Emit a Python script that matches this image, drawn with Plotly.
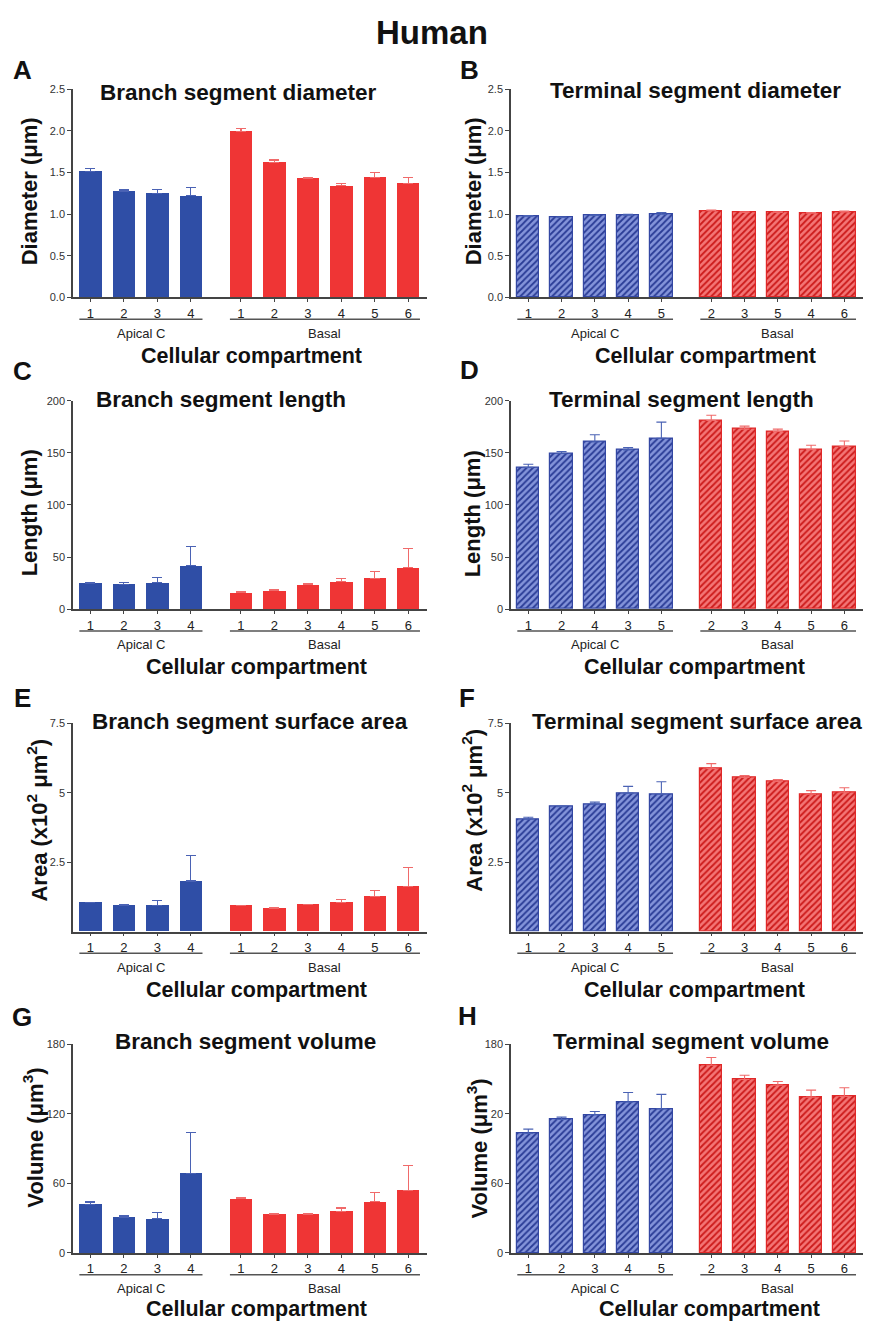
import plotly.graph_objects as go

W, H = 869, 1325

# ---------------- data ----------------
A_blue_labels = ["1", "2", "3", "4"]
A_red_labels = ["1", "2", "3", "4", "5", "6"]
A_blue_mean = [1.51, 1.27, 1.25, 1.22]
A_blue_sem = [0.035, 0.02, 0.05, 0.10]
A_red_mean = [1.99, 1.62, 1.425, 1.34, 1.44, 1.37]
A_red_sem = [0.04, 0.03, 0.015, 0.03, 0.065, 0.065]

B_blue_labels = ["1", "2", "3", "4", "5"]
B_red_labels = ["2", "3", "5", "4", "6"]
B_blue_mean = [0.975, 0.96, 0.983, 0.987, 0.998]
B_blue_sem = [0.008, 0.005, 0.008, 0.01, 0.02]
B_red_mean = [1.04, 1.02, 1.02, 1.01, 1.027]
B_red_sem = [0.01, 0.008, 0.008, 0.008, 0.01]

C_blue_labels = ["1", "2", "3", "4"]
C_red_labels = ["1", "2", "3", "4", "5", "6"]
C_blue_mean = [25.0, 24.1, 25.7, 41.5]
C_blue_sem = [0.7, 1.5, 4.7, 18.7]
C_red_mean = [16.2, 18.1, 23.5, 26.3, 29.8, 39.6]
C_red_sem = [0.4, 0.6, 0.7, 2.9, 6.0, 18.4]

D_blue_labels = ["1", "2", "4", "3", "5"]
D_red_labels = ["2", "3", "4", "5", "6"]
D_blue_mean = [136.0, 149.6, 160.4, 152.8, 163.9]
D_blue_sem = [3.1, 1.6, 6.9, 2.2, 15.5]
D_red_mean = [181.0, 172.7, 170.5, 153.1, 155.9]
D_red_sem = [5.1, 2.9, 2.2, 4.1, 5.4]

E_blue_labels = ["1", "2", "3", "4"]
E_red_labels = ["1", "2", "3", "4", "5", "6"]
E_blue_mean = [1.05, 0.95, 0.94, 1.82]
E_blue_sem = [0.01, 0.02, 0.17, 0.92]
E_red_mean = [0.94, 0.845, 0.964, 1.048, 1.25, 1.63]
E_red_sem = [0.01, 0.01, 0.02, 0.11, 0.23, 0.67]

F_blue_labels = ["1", "2", "3", "4", "5"]
F_red_labels = ["2", "3", "4", "5", "6"]
F_blue_mean = [4.05, 4.5, 4.595, 4.99, 4.95]
F_blue_sem = [0.07, 0.02, 0.07, 0.24, 0.45]
F_red_mean = [5.87, 5.55, 5.405, 4.95, 5.0]
F_red_sem = [0.18, 0.07, 0.07, 0.13, 0.18]

G_blue_labels = ["1", "2", "3", "4"]
G_red_labels = ["1", "2", "3", "4", "5", "6"]
G_blue_mean = [41.9, 31.0, 29.3, 68.4]
G_blue_sem = [2.0, 1.2, 5.2, 35.8]
G_red_mean = [46.7, 33.3, 33.3, 35.6, 44.1, 54.1]
G_red_sem = [0.9, 0.6, 0.9, 3.1, 8.3, 21.4]

H_blue_labels = ["1", "2", "3", "4", "5"]
H_red_labels = ["2", "3", "4", "5", "6"]
H_blue_mean = [103.1, 115.1, 119.1, 130.2, 124.2]
H_blue_sem = [3.7, 2.0, 2.8, 8.2, 12.5]
H_red_mean = [161.8, 149.5, 144.7, 134.4, 135.0]
H_red_sem = [6.8, 3.7, 3.1, 6.0, 7.4]

group_names = ["Apical C", "Basal"]

A_ticks = [0, 0.5, 1.0, 1.5, 2.0, 2.5]
A_ticktext = ["0.0", "0.5", "1.0", "1.5", "2.0", "2.5"]
C_ticks = [0, 50, 100, 150, 200]
C_ticktext = ["0", "50", "100", "150", "200"]
E_ticks = [2.5, 5, 7.5]
E_ticktext = ["2.5", "5", "7.5"]
G_ticks = [0, 60, 120, 180]
G_ticktext = ["0", "60", "120", "180"]
H_ticktext = ["0", "60", "20", "180"]

# ---------------- layout helpers ----------------
FONT = "Liberation Sans, Arial, Helvetica, sans-serif"
BLUE = "#2f4ea6"
RED = "#ef3535"
BLUE_ERR = "#4a62b4"
RED_ERR = "#f06a6a"
HB_BG, HB_FG, HB_LINE = "#8494da", "#2a3c96", "#3347a3"
HR_BG, HR_FG, HR_LINE = "#f47676", "#cc1a1a", "#e02828"

def pxx(x):
    return x / W

def pxy(y):
    return 1 - y / H

col_x = [(73, 427), (511, 863)]
row_y = [(84, 294), (398.3, 608.7), (724, 934), (1047.7, 1258.3)]

panels = [
    dict(L="A", t="Branch segment diameter", yt="Diameter (μm)", bl=A_blue_labels, rl=A_red_labels,
         bm=A_blue_mean, bs=A_blue_sem, rm=A_red_mean, rs=A_red_sem, hatch=False,
         yr=[0, 2.5], tv=A_ticks, tt=A_ticktext,
         Lp=(22, 65), tp=(239, 87), ytp=(29, 187), xtp=(251, 353)),
    dict(L="B", t="Terminal segment diameter", yt="Diameter (μm)", bl=B_blue_labels, rl=B_red_labels,
         bm=B_blue_mean, bs=B_blue_sem, rm=B_red_mean, rs=B_red_sem, hatch=True,
         yr=[0, 2.5], tv=A_ticks, tt=A_ticktext,
         Lp=(469, 65), tp=(695, 85), ytp=(473, 187), xtp=(705, 353)),
    dict(L="C", t="Branch segment length", yt="Length (μm)", bl=C_blue_labels, rl=C_red_labels,
         bm=C_blue_mean, bs=C_blue_sem, rm=C_red_mean, rs=C_red_sem, hatch=False,
         yr=[0, 200], tv=C_ticks, tt=C_ticktext,
         Lp=(22, 368), tp=(221, 397), ytp=(29, 512), xtp=(256, 667)),
    dict(L="D", t="Terminal segment length", yt="Length (μm)", bl=D_blue_labels, rl=D_red_labels,
         bm=D_blue_mean, bs=D_blue_sem, rm=D_red_mean, rs=D_red_sem, hatch=True,
         yr=[0, 200], tv=C_ticks, tt=C_ticktext,
         Lp=(469, 367), tp=(681, 397), ytp=(472, 512), xtp=(694, 667)),
    dict(L="E", t="Branch segment surface area", yt="Area (x10<sup>2</sup> μm<sup>2</sup>)",
         bl=E_blue_labels, rl=E_red_labels,
         bm=E_blue_mean, bs=E_blue_sem, rm=E_red_mean, rs=E_red_sem, hatch=False,
         yr=[0, 7.5], tv=E_ticks, tt=E_ticktext,
         Lp=(22, 698), tp=(250, 722), ytp=(37, 822), xtp=(256, 993)),
    dict(L="F", t="Terminal segment surface area", yt="Area (x10<sup>2</sup> μm<sup>2</sup>)",
         bl=F_blue_labels, rl=F_red_labels,
         bm=F_blue_mean, bs=F_blue_sem, rm=F_red_mean, rs=F_red_sem, hatch=True,
         yr=[0, 7.5], tv=E_ticks, tt=E_ticktext,
         Lp=(467, 698), tp=(697, 722), ytp=(472, 811), xtp=(694, 993)),
    dict(L="G", t="Branch segment volume", yt="Volume (μm<sup>3</sup>)", bl=G_blue_labels, rl=G_red_labels,
         bm=G_blue_mean, bs=G_blue_sem, rm=G_red_mean, rs=G_red_sem, hatch=False,
         yr=[0, 180], tv=G_ticks, tt=G_ticktext,
         Lp=(22, 1020), tp=(245, 1045), ytp=(33, 1142), xtp=(256, 1315)),
    dict(L="H", t="Terminal segment volume", yt="Volume (μm<sup>3</sup>)", bl=H_blue_labels, rl=H_red_labels,
         bm=H_blue_mean, bs=H_blue_sem, rm=H_red_mean, rs=H_red_sem, hatch=True,
         yr=[0, 180], tv=G_ticks, tt=H_ticktext,
         Lp=(468, 1019), tp=(691, 1045), ytp=(477, 1153), xtp=(709, 1315)),
]

fig = go.Figure()
layout = dict(width=W, height=H, margin=dict(l=0, r=0, t=0, b=0),
              paper_bgcolor="white", plot_bgcolor="white", showlegend=False,
              bargap=0, font=dict(family=FONT, color="#111"))
annotations = []
shapes = []

annotations.append(dict(text="<b>Human</b>", x=pxx(432), y=pxy(27), xref="paper", yref="paper",
                        showarrow=False, xanchor="center", yanchor="middle",
                        font=dict(size=33, family=FONT, color="#111")))

BW = 0.67
for i, p in enumerate(panels):
    r, c = divmod(i, 2)
    n = i + 1
    xa = "x" if n == 1 else f"x{n}"
    ya = "y" if n == 1 else f"y{n}"
    nb = len(p["bl"])
    bpos = list(range(nb))
    rpos = [nb + 0.5 + k for k in range(len(p["rl"]))]

    for pos, mean, sem, is_blue in ((bpos, p["bm"], p["bs"], True), (rpos, p["rm"], p["rs"], False)):
        if p["hatch"]:
            marker = dict(color=HB_BG if is_blue else HR_BG,
                          line=dict(color=HB_LINE if is_blue else HR_LINE, width=1.2),
                          pattern=dict(shape="/", bgcolor=HB_BG if is_blue else HR_BG,
                                       fgcolor=HB_FG if is_blue else HR_FG,
                                       size=4.5, solidity=0.4, fillmode="replace"))
        else:
            marker = dict(color=BLUE if is_blue else RED, line=dict(width=0))
        fig.add_trace(go.Bar(
            x=pos, y=mean, width=BW, marker=marker, xaxis=xa, yaxis=ya,
            error_y=dict(type="data", array=sem, arrayminus=[0] * len(sem), symmetric=False,
                         color=BLUE_ERR if is_blue else RED_ERR, thickness=1.1, width=5),
            hoverinfo="skip"))

    x0, x1 = col_x[c]
    y0, y1 = row_y[r]
    key_x = "xaxis" if n == 1 else f"xaxis{n}"
    key_y = "yaxis" if n == 1 else f"yaxis{n}"
    layout[key_x] = dict(domain=[pxx(x0), pxx(x1)], range=[-0.52, 10.06], anchor=ya,
                         showline=True, linecolor="#444", linewidth=1.5,
                         ticks="outside", ticklen=3, tickcolor="#444", tickwidth=1,
                         tickvals=bpos + rpos, ticktext=p["bl"] + p["rl"],
                         tickfont=dict(size=13, color="#222", family=FONT),
                         showgrid=False, zeroline=False, fixedrange=True)
    layout[key_y] = dict(domain=[pxy(y1), pxy(y0)], range=p["yr"], anchor=xa,
                         showline=True, linecolor="#444", linewidth=1.5,
                         ticks="outside", ticklen=4, tickcolor="#444", tickwidth=1,
                         tickvals=p["tv"], ticktext=p["tt"],
                         tickfont=dict(size=11, color="#333", family=FONT),
                         showgrid=False, zeroline=False, fixedrange=True)

    dom_h = y1 - y0
    for pos, name in ((bpos, group_names[0]), (rpos, group_names[1])):
        shapes.append(dict(type="line", xref=xa, yref=f"{ya} domain",
                           x0=pos[0] - 0.33, x1=pos[-1] + 0.35,
                           y0=-22 / dom_h, y1=-22 / dom_h,
                           line=dict(color="#555", width=1.5)))
        annotations.append(dict(text=name, xref=xa, yref=f"{ya} domain",
                                x=(pos[0] + pos[-1]) / 2, y=-36 / dom_h,
                                showarrow=False, xanchor="center", yanchor="middle",
                                font=dict(size=13, color="#222", family=FONT)))

    annotations.append(dict(text=f"<b>{p['L']}</b>", x=pxx(p["Lp"][0]), y=pxy(p["Lp"][1]),
                            xref="paper", yref="paper", showarrow=False,
                            xanchor="center", yanchor="middle",
                            font=dict(size=26, family=FONT, color="#111")))
    annotations.append(dict(text=f"<b>{p['t']}</b>", x=pxx(p["tp"][0]), y=pxy(p["tp"][1]),
                            xref="paper", yref="paper", showarrow=False,
                            xanchor="center", yanchor="middle",
                            font=dict(size=22.5, family=FONT, color="#111")))
    annotations.append(dict(text=f"<b>{p['yt']}</b>", x=pxx(p["ytp"][0]), y=pxy(p["ytp"][1]),
                            xref="paper", yref="paper", showarrow=False, textangle=-90,
                            xanchor="center", yanchor="middle",
                            font=dict(size=22, family=FONT, color="#111")))
    annotations.append(dict(text="<b>Cellular compartment</b>", x=pxx(p["xtp"][0]), y=pxy(p["xtp"][1]),
                            xref="paper", yref="paper", showarrow=False,
                            xanchor="center", yanchor="middle",
                            font=dict(size=21.5, family=FONT, color="#111")))

layout["annotations"] = annotations
layout["shapes"] = shapes
fig.update_layout(**layout)
fig.write_html("out.html")
